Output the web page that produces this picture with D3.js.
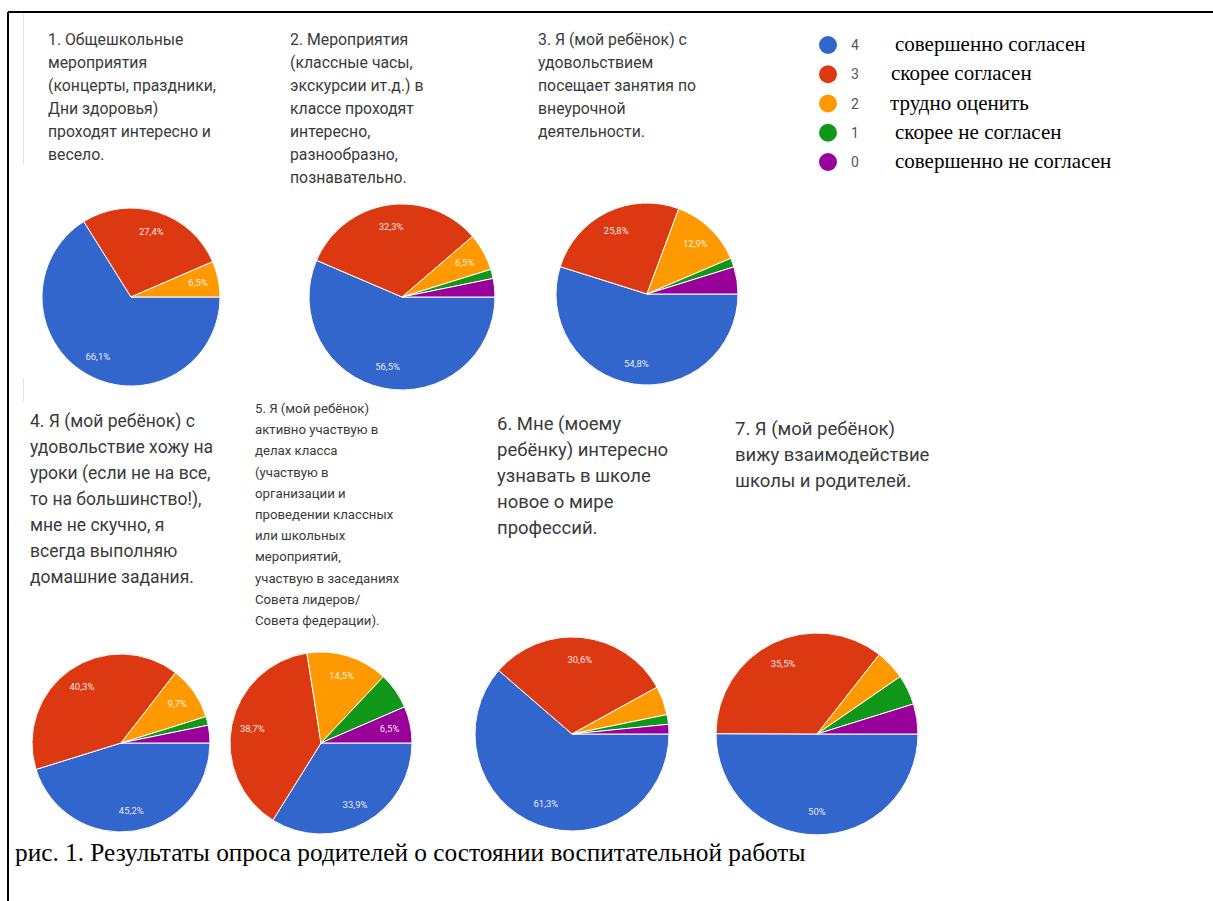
<!DOCTYPE html>
<html>
<head>
<meta charset="utf-8">
<script src="https://cdn.jsdelivr.net/npm/d3@7"></script>
<style>
  body { margin: 0; background: #fff; }
</style>
</head>
<body>
<div id="main"></div>
<script>
  // answer codes and what they mean
  var categories = ["4", "3", "2", "1", "0"];
  var categoryNames = ["совершенно согласен", "скорее согласен", "трудно оценить",
                       "скорее не согласен", "совершенно не согласен"];
  var colors = ["#3366cc", "#dc3912", "#ff9900", "#109618", "#990099"];

  // question texts, line by line
  var questions = [
    ["1. Общешкольные", "мероприятия", "(концерты, праздники,", "Дни здоровья)", "проходят интересно и", "весело."],
    ["2. Мероприятия", "(классные часы,", "экскурсии ит.д.) в", "классе проходят", "интересно,", "разнообразно,", "познавательно."],
    ["3. Я (мой ребёнок) с", "удовольствием", "посещает занятия по", "внеурочной", "деятельности."],
    ["4. Я (мой ребёнок) с", "удовольствие хожу на", "уроки (если не на все,", "то на большинство!),", "мне не скучно, я", "всегда выполняю", "домашние задания."],
    ["5. Я (мой ребёнок)", "активно участвую в", "делах класса", "(участвую в", "организации и", "проведении классных", "или школьных", "мероприятий,", "участвую в заседаниях", "Совета лидеров/", "Совета федерации)."],
    ["6. Мне (моему", "ребёнку) интересно", "узнавать в школе", "новое о мире", "профессий."],
    ["7. Я (мой ребёнок)", "вижу взаимодействие", "школы и родителей."]
  ];

  // percent per answer 4,3,2,1,0
  var values = [
    [66.1, 27.4, 6.5, 0, 0],
    [56.5, 32.3, 6.5, 1.6, 3.2],
    [54.8, 25.8, 12.9, 1.6, 4.8],
    [45.2, 40.3, 9.7, 1.6, 3.2],
    [33.9, 38.7, 14.5, 6.5, 6.5],
    [61.3, 30.6, 4.8, 1.6, 1.6],
    [50, 35.5, 4.8, 4.8, 4.8]
  ];

  // which slices carry a percent label
  var labelled = [
    [1, 1, 1, 0, 0],
    [1, 1, 1, 0, 0],
    [1, 1, 1, 0, 0],
    [1, 1, 1, 0, 0],
    [1, 1, 1, 0, 1],
    [1, 1, 0, 0, 0],
    [1, 1, 0, 0, 0]
  ];

  var caption = "рис. 1. Результаты опроса родителей о состоянии воспитательной работы";

  // layout
  var pies = [
    {cx: 131, cy: 297, r: 89},
    {cx: 402, cy: 297, r: 93},
    {cx: 647, cy: 294, r: 91},
    {cx: 121, cy: 743, r: 89},
    {cx: 321, cy: 743, r: 91},
    {cx: 572, cy: 734, r: 97},
    {cx: 817, cy: 734, r: 101}
  ];
  var titles = [
    {x: 48, y: 45, lh: 23, size: 15.8},
    {x: 290, y: 45, lh: 23, size: 15.8},
    {x: 538, y: 45, lh: 23, size: 15.8},
    {x: 30, y: 427, lh: 26, size: 17.5},
    {x: 255, y: 413, lh: 21.2, size: 13.2},
    {x: 497, y: 430, lh: 26, size: 18.5},
    {x: 735, y: 435, lh: 26, size: 18.5}
  ];

  var svg = d3.select("#main")
              .append("svg")
              .attr("width", 1213)
              .attr("height", 901);

  // frame
  svg.append("line")
      .attr("x1", 8).attr("y1", 12)
      .attr("x2", 1213).attr("y2", 12)
      .attr("stroke", "#000")
      .attr("stroke-width", 2);
  svg.append("line")
      .attr("x1", 8).attr("y1", 12)
      .attr("x2", 8).attr("y2", 901)
      .attr("stroke", "#000")
      .attr("stroke-width", 2);
  // faint screenshot edges
  svg.append("line")
      .attr("x1", 23.5).attr("y1", 14).attr("x2", 23.5).attr("y2", 165)
      .attr("stroke", "#e4e4e4");
  svg.append("line")
      .attr("x1", 23.5).attr("y1", 378).attr("x2", 23.5).attr("y2", 402)
      .attr("stroke", "#e4e4e4");

  var color = d3.scaleOrdinal().domain(categories).range(colors);
  var pie = d3.pie()
              .sort(null)
              .value(function(d) { return d.v; })
              .startAngle(Math.PI / 2)
              .endAngle(Math.PI / 2 + 2 * Math.PI);
  var fmt = function(v) { return String(v).replace(".", ",") + "%"; };

  values.forEach(function(vals, i) {
    var p = pies[i];
    var rows = vals.map(function(v, k) { return {k: categories[k], v: v, show: labelled[i][k]}; });
    var arc = d3.arc().innerRadius(0).outerRadius(p.r);
    var labelArc = d3.arc().innerRadius(p.r * 0.77).outerRadius(p.r * 0.77);
    var g = svg.append("g").attr("transform", "translate(" + p.cx + "," + p.cy + ")");

    g.selectAll("path")
      .data(pie(rows).filter(function(d) { return d.data.v > 0; }))
      .enter().append("path")
      .attr("d", arc)
      .attr("fill", function(d) { return color(d.data.k); })
      .attr("stroke", "#fff")
      .attr("stroke-width", 1);

    g.selectAll("text")
      .data(pie(rows).filter(function(d) { return d.data.show; }))
      .enter().append("text")
      .attr("transform", function(d) { return "translate(" + labelArc.centroid(d) + ")"; })
      .attr("text-anchor", "middle")
      .attr("dy", "0.35em")
      .attr("font-family", "Roboto")
      .attr("font-size", 9.5)
      .attr("fill", "#fff")
      .attr("fill-opacity", 0.9)
      .text(function(d) { return fmt(d.data.v); });

    var t = titles[i];
    svg.append("text")
      .attr("x", t.x)
      .attr("y", t.y)
      .attr("font-family", "Roboto")
      .attr("font-size", t.size)
      .attr("fill", "#3a3a3a")
      .selectAll("tspan")
      .data(questions[i])
      .enter().append("tspan")
      .attr("x", t.x)
      .attr("dy", function(d, j) { return j ? t.lh : 0; })
      .text(function(d) { return d; });
  });

  // legend
  var legend = svg.append("g");
  var ly = d3.scalePoint().domain(categories).range([45, 162]);
  var nameX = [895, 891, 890, 895, 895];
  categories.forEach(function(c, k) {
    legend.append("circle")
      .attr("cx", 828)
      .attr("cy", ly(c))
      .attr("r", 9)
      .attr("fill", color(c));
    legend.append("text")
      .attr("x", 851)
      .attr("y", ly(c) + 5)
      .attr("font-family", "Roboto")
      .attr("font-size", 14)
      .attr("fill", "#555")
      .text(c);
    legend.append("text")
      .attr("x", nameX[k])
      .attr("y", ly(c) + 6)
      .attr("font-family", "Liberation Serif")
      .attr("font-size", 21)
      .attr("fill", "#000")
      .text(categoryNames[k]);
  });

  svg.append("text")
    .attr("x", 15)
    .attr("y", 861)
    .attr("font-family", "Liberation Serif")
    .attr("font-size", 25.3)
    .attr("fill", "#000")
    .text(caption);
</script>
</body>
</html>
